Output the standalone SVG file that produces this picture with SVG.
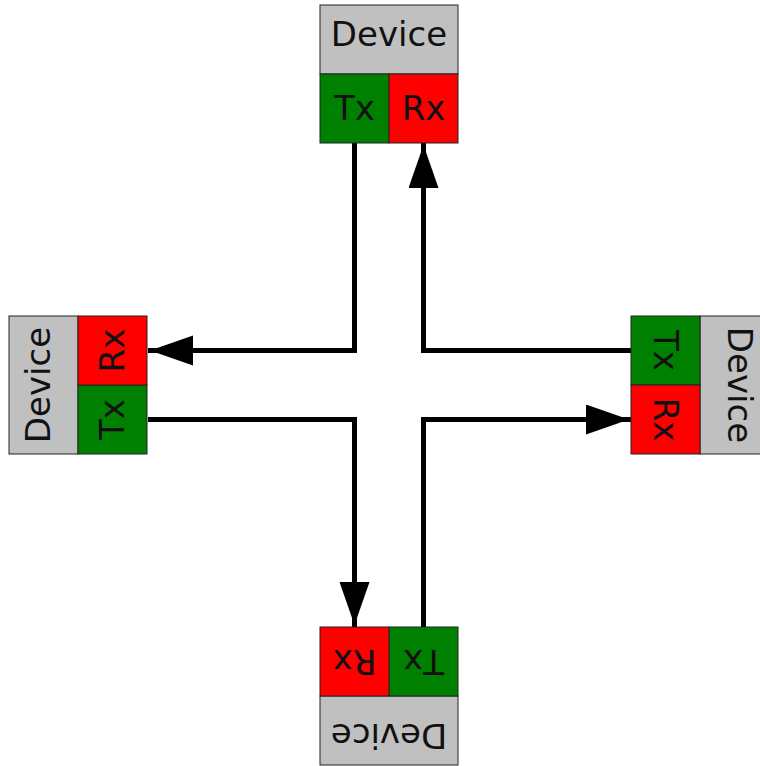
<svg xmlns="http://www.w3.org/2000/svg" width="760" height="766" viewBox="0 0 760 766">
  <style>
    .label { fill: #c0c0c0; stroke: #222; stroke-width: 1; }
    .tx { fill: #008000; stroke: #222; stroke-width: 1; }
    .rx { fill: #ff0000; stroke: #222; stroke-width: 1; }
    text { font-family: "DejaVu Sans", Verdana, sans-serif; font-size: 34px; fill: #111; text-anchor: middle; }
    .wire { fill: none; stroke: #000; stroke-width: 5; stroke-linejoin: miter; }
  </style>
  <defs>
    <marker id="arrow" markerUnits="userSpaceOnUse" markerWidth="46" markerHeight="32" refX="45" refY="15" orient="auto">
      <path d="M0,0 L43,15 L0,30 Z" fill="#000"/>
    </marker>
  </defs>

  <rect width="760" height="766" fill="#fff"/>

  <!-- connectors: Tx of each device feeds Rx of the next -->
  <g id="connectors">
    <path class="wire" d="M354.5,143 V350.5 H148" marker-end="url(#arrow)"/>
    <path class="wire" d="M148,419.5 H354.5 V627" marker-end="url(#arrow)"/>
    <path class="wire" d="M423.5,627 V419.5 H631" marker-end="url(#arrow)"/>
    <path class="wire" d="M631,350.5 H423.5 V143" marker-end="url(#arrow)"/>
  </g>

  <!-- devices: same block rotated about the centre (389,385) -->
  <g id="device-top">
    <rect class="label" x="320" y="5" width="138" height="69"/>
    <rect class="tx" x="320" y="74" width="69" height="69"/>
    <rect class="rx" x="389" y="74" width="69" height="69"/>
    <text x="389" y="46">Device</text>
    <text x="354.5" y="120">Tx</text>
    <text x="423.5" y="120">Rx</text>
  </g>

  <g id="device-left" transform="rotate(-90 389 385)">
    <rect class="label" x="320" y="5" width="138" height="69"/>
    <rect class="tx" x="320" y="74" width="69" height="69"/>
    <rect class="rx" x="389" y="74" width="69" height="69"/>
    <text x="389" y="46">Device</text>
    <text x="354.5" y="120">Tx</text>
    <text x="423.5" y="120">Rx</text>
  </g>

  <g id="device-right" transform="rotate(90 389 385)">
    <rect class="label" x="320" y="5" width="138" height="69"/>
    <rect class="tx" x="320" y="74" width="69" height="69"/>
    <rect class="rx" x="389" y="74" width="69" height="69"/>
    <text x="389" y="46">Device</text>
    <text x="354.5" y="120">Tx</text>
    <text x="423.5" y="120">Rx</text>
  </g>

  <g id="device-bottom" transform="rotate(180 389 385)">
    <rect class="label" x="320" y="5" width="138" height="69"/>
    <rect class="tx" x="320" y="74" width="69" height="69"/>
    <rect class="rx" x="389" y="74" width="69" height="69"/>
    <text x="389" y="46">Device</text>
    <text x="354.5" y="120">Tx</text>
    <text x="423.5" y="120">Rx</text>
  </g>
</svg>
